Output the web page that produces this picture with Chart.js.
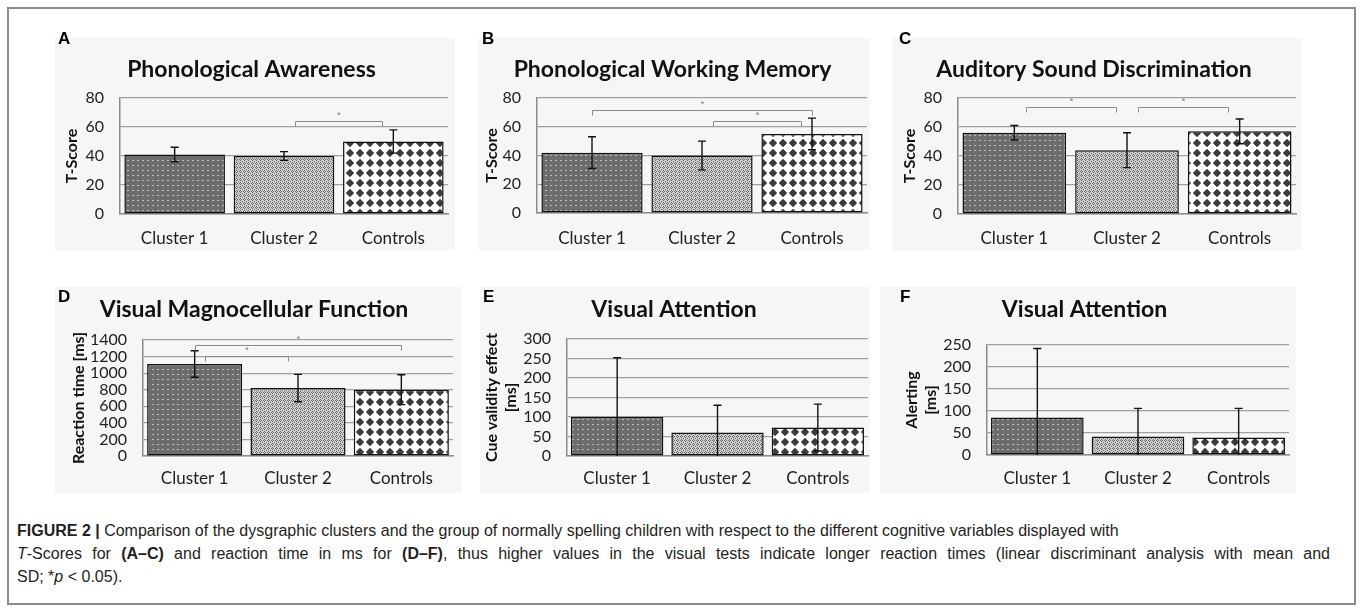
<!DOCTYPE html>
<html>
<head>
<meta charset="utf-8">
<script src="https://cdn.jsdelivr.net/npm/chart.js@4/dist/chart.umd.min.js"></script>
<style>
  body { margin: 0; width: 1359px; height: 612px; background: #fff; overflow: hidden; position: relative; }
  #frame { position: absolute; left: 7px; top: 7px; width: 1349px; height: 598px; border: 2px solid #8c8c8c; box-sizing: border-box; }
  .panel { position: absolute; background: #f6f6f6; }
  .panel canvas { position: absolute; left: 0; top: 0; }
  .letter { position: absolute; font: bold 17px "Liberation Sans", Arial, sans-serif; line-height: 17px; color: #000; }
  #caption { position: absolute; left: 17px; top: 519px; width: 1313px; font: 16px "Liberation Sans", Arial, sans-serif; line-height: 23px; color: #231f20; }
  #caption div { white-space: nowrap; }
  #caption .just { white-space: normal; text-align: justify; text-align-last: justify; }
</style>
</head>
<body>
<div id="frame"></div>
<div id="caption">
  <div><b>FIGURE 2 |</b> Comparison of the dysgraphic clusters and the group of normally spelling children with respect to the different cognitive variables displayed with</div>
  <div class="just"><i>T</i>-Scores for <b>(A–C)</b> and reaction time in ms for <b>(D–F)</b>, thus higher values in the visual tests indicate longer reaction times (linear discriminant analysis with mean and</div>
  <div>SD; *<i>p</i> &lt; 0.05).</div>
</div>

<script>
const categories = ['Cluster 1', 'Cluster 2', 'Controls'];

// means and SDs
const awarenessMean = [41, 40, 50];
const awarenessSd = [5, 3, 8];
const workingMemMean = [42, 40, 55];
const workingMemSd = [11, 10, 11];
const soundDiscMean = [56, 44, 57];
const soundDiscSd = [5, 12, 8.5];
const magnoMean = [1110, 820, 800];
const magnoSd = [160, 165, 180];
const cueMean = [100, 60, 73];
const cueSd = [152, 70, 60];
const alertMean = [85, 42, 40];
const alertSd = [157, 64, 66];

// significant pairs: [group a, group b, bracket level in axis units]
const awarenessSig = [[1, 2, 64]];
const workingMemSig = [[0, 2, 72], [1, 2, 64]];
const soundDiscSig = [[0, 1, 74], [1, 2, 74]];
const magnoSig = [[0, 2, 1335], [0, 1, 1210]];

// y tick values
const tScoreTicks = [0, 20, 40, 60, 80];
const magnoTicks = [0, 200, 400, 600, 800, 1000, 1200, 1400];
const cueTicks = [0, 50, 100, 150, 200, 250, 300];
const alertTicks = [0, 50, 100, 150, 200, 250];

const panels = [
  { letter: 'A', title: 'Phonological Awareness', yTitle: 'T-Score', means: awarenessMean, sd: awarenessSd, sig: awarenessSig,
    ticks: tScoreTicks, box: [55, 38, 455, 250], plot: [120, 98, 448, 214], titleY: 70, yTitleX: 72, xPad: 6, lx: 58, ly: 30 },
  { letter: 'B', title: 'Phonological Working Memory', yTitle: 'T-Score', means: workingMemMean, sd: workingMemSd, sig: workingMemSig,
    ticks: tScoreTicks, box: [478, 38, 870, 250], plot: [537, 98, 867, 213], titleY: 70, yTitleX: 492, xPad: 7, lx: 482, ly: 30 },
  { letter: 'C', title: 'Auditory Sound Discrimination', yTitle: 'T-Score', means: soundDiscMean, sd: soundDiscSd, sig: soundDiscSig,
    ticks: tScoreTicks, box: [892, 38, 1302, 250], plot: [958, 98, 1296, 214], titleY: 70, yTitleX: 910, xPad: 6, lx: 899, ly: 30 },
  { letter: 'D', title: 'Visual Magnocellular Function', yTitle: 'Reaction time [ms]', means: magnoMean, sd: magnoSd, sig: magnoSig,
    ticks: magnoTicks, box: [55, 287, 462, 493], plot: [143, 340, 453, 456], titleY: 310, yTitleX: 79, xPad: 4, lx: 58, ly: 288 },
  { letter: 'E', title: 'Visual Attention', yTitle: ['Cue validity effect', '[ms]'], means: cueMean, sd: cueSd, sig: [],
    ticks: cueTicks, box: [480, 287, 870, 493], plot: [567, 339, 868, 456], titleY: 310, yTitleX: 492, xPad: 4, lx: 483, ly: 288 },
  { letter: 'F', title: 'Visual Attention', yTitle: ['Alerting', '[ms]'], means: alertMean, sd: alertSd, sig: [],
    ticks: alertTicks, box: [880, 287, 1296, 493], plot: [987, 345, 1289, 455], titleY: 310, yTitleX: 912, xPad: 5, lx: 900, ly: 288 }
];

function makePattern(size, draw) {
  const c = document.createElement('canvas');
  c.width = size; c.height = size;
  const g = c.getContext('2d');
  draw(g, size);
  return g.createPattern(c, 'repeat');
}

const dotted = makePattern(5, (g) => {
  g.fillStyle = '#6c6c6c'; g.fillRect(0, 0, 5, 5);
  g.fillStyle = '#bdbdbd'; g.fillRect(2, 2, 2, 1);
});
const hatched = makePattern(4, (g) => {
  g.fillStyle = '#cdcdcd'; g.fillRect(0, 0, 4, 4);
  g.fillStyle = '#6a6a6a';
  g.fillRect(1, 0, 1, 1); g.fillRect(0, 1, 1, 1); g.fillRect(2, 1, 1, 1); g.fillRect(1, 2, 1, 1);
  g.fillRect(3, 3, 1, 1);
});
const diamonds = makePattern(10, (g) => {
  g.fillStyle = '#ffffff'; g.fillRect(0, 0, 10, 10);
  g.fillStyle = '#3b3b3b';
  g.beginPath();
  g.moveTo(5, 0.8); g.lineTo(9.2, 5); g.lineTo(5, 9.2); g.lineTo(0.8, 5);
  g.closePath(); g.fill();
});
const barFills = [dotted, hatched, diamonds];

const errorBars = {
  id: 'errorBars',
  afterDatasetsDraw(chart, args, opts) {
    const { ctx, scales: { y } } = chart;
    const meta = chart.getDatasetMeta(0);
    const means = chart.data.datasets[0].data;
    ctx.save();
    ctx.strokeStyle = '#111';
    ctx.lineWidth = 1.4;
    meta.data.forEach((bar, i) => {
      const hi = means[i] + opts.sd[i];
      const lo = means[i] - opts.sd[i];
      const yHi = y.getPixelForValue(hi);
      const yLo = y.getPixelForValue(Math.max(lo, y.min));
      ctx.beginPath();
      ctx.moveTo(bar.x, yHi); ctx.lineTo(bar.x, yLo);
      ctx.moveTo(bar.x - 4, yHi); ctx.lineTo(bar.x + 4, yHi);
      if (lo > y.min) { ctx.moveTo(bar.x - 4, yLo); ctx.lineTo(bar.x + 4, yLo); }
      ctx.stroke();
    });
    ctx.restore();
  }
};

const sigBrackets = {
  id: 'sigBrackets',
  afterDatasetsDraw(chart, args, opts) {
    const { ctx, scales: { x, y } } = chart;
    const w = x.getPixelForValue(1) - x.getPixelForValue(0);
    ctx.save();
    ctx.strokeStyle = '#8a8a8a';
    ctx.fillStyle = '#777';
    ctx.lineWidth = 1;
    ctx.font = '9px "Liberation Sans"';
    ctx.textAlign = 'center';
    opts.pairs.forEach(([a, b, level]) => {
      const inset = b - a === 1 ? w * 0.1 : 0;
      const x1 = Math.round(x.getPixelForValue(a) + inset) + 0.5;
      const x2 = Math.round(x.getPixelForValue(b) - inset) + 0.5;
      const yy = Math.round(y.getPixelForValue(level)) + 0.5;
      ctx.beginPath();
      ctx.moveTo(x1, yy + 5); ctx.lineTo(x1, yy); ctx.lineTo(x2, yy); ctx.lineTo(x2, yy + 5);
      ctx.stroke();
      ctx.fillText('*', (x1 + x2) / 2, yy - 4);
    });
    ctx.restore();
  }
};

panels.forEach(p => {
  const [bl, bt, br, bb] = p.box;
  const [pl, pt, pr, pb] = p.plot;
  const W = br - bl, H = bb - bt;

  const div = document.createElement('div');
  div.className = 'panel';
  Object.assign(div.style, { left: bl + 'px', top: bt + 'px', width: W + 'px', height: H + 'px' });
  const canvas = document.createElement('canvas');
  canvas.width = W; canvas.height = H;
  canvas.style.width = W + 'px'; canvas.style.height = H + 'px';
  div.appendChild(canvas);
  document.body.appendChild(div);

  const lbl = document.createElement('div');
  lbl.className = 'letter';
  lbl.textContent = p.letter;
  Object.assign(lbl.style, { left: p.lx + 'px', top: p.ly + 'px' });
  document.body.appendChild(lbl);

  const titleSize = 23;
  const titleLH = titleSize * 1.2;
  const titleTop = (p.titleY - bt) - titleLH / 2;
  const titleBottom = (pt - bt) - titleTop - titleLH;
  const yTitleSize = 16;

  new Chart(canvas.getContext('2d'), {
    type: 'bar',
    data: {
      labels: categories,
      datasets: [{
        data: p.means,
        backgroundColor: barFills,
        borderColor: '#111',
        borderWidth: 1.5,
        borderSkipped: false,
        categoryPercentage: 0.92,
        barPercentage: 1
      }]
    },
    options: {
      responsive: false,
      animation: false,
      events: [],
      layout: { padding: { left: 0, top: 0, right: br - pr, bottom: 0 } },
      plugins: {
        legend: { display: false },
        tooltip: { enabled: false },
        title: {
          display: true,
          text: p.title,
          color: '#111',
          font: { family: 'Lato', weight: 'bold', size: titleSize },
          padding: { top: titleTop, bottom: titleBottom }
        },
        errorBars: { sd: p.sd },
        sigBrackets: { pairs: p.sig }
      },
      scales: {
        x: {
          grid: { display: false },
          border: { color: '#8c8c8c', width: 1.5 },
          ticks: { color: '#222', font: { family: 'Lato', size: 17 }, padding: p.xPad },
          afterFit: s => { s.height = bb - pb; }
        },
        y: {
          min: 0,
          max: p.ticks[p.ticks.length - 1],
          afterBuildTicks: axis => { axis.ticks = p.ticks.map(v => ({ value: v })); },
          ticks: { autoSkip: false, callback: v => String(v), color: '#222', font: { family: 'Lato', size: 16, lineHeight: 1 }, padding: 16 },
          grid: { color: '#a0a0a0', lineWidth: 1.2, drawTicks: false },
          border: { color: '#8c8c8c', width: 1.5 },
          title: {
            display: true,
            text: p.yTitle,
            color: '#111',
            font: { family: 'Lato', weight: 'bold', size: yTitleSize },
            padding: { top: (p.yTitleX - bl) - yTitleSize * 0.6, bottom: 0 }
          },
          afterFit: s => { s.width = pl - bl; }
        }
      }
    },
    plugins: [errorBars, sigBrackets]
  });
});
</script>
</body>
</html>
